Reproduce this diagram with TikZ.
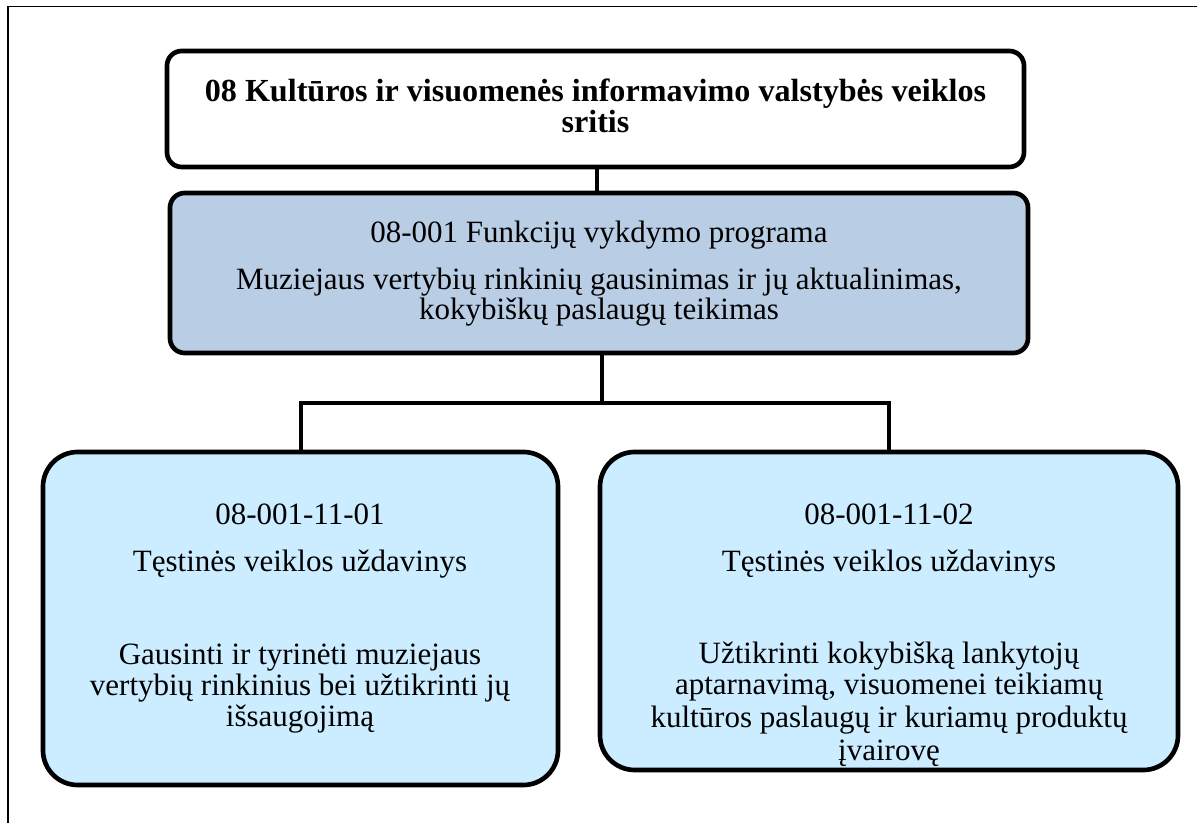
\documentclass[tikz,border=0pt]{standalone}
\usepackage{fontspec}
\setmainfont{Liberation Serif}
\definecolor{progblue}{HTML}{B9CDE5}
\definecolor{taskblue}{HTML}{CCECFF}
\begin{document}
\begin{tikzpicture}[x=0.75pt,y=-0.75pt,
  box/.style={draw=black, line width=3.5pt, inner sep=0pt},
  conn/.style={draw=black, line width=3pt},
  ln/.style={anchor=base, inner sep=0pt, font=\fontsize{23.25}{28}\selectfont},
  lnb/.style={ln, font=\fontsize{24.1}{28}\selectfont\bfseries}]
\useasboundingbox (0,0) rectangle (1197,823);
% frame
\draw[line width=1pt] (8,823) -- (8,6.5) -- (1197,6.5);
% boxes
\node[box, fill=white, rounded corners=11pt, minimum width=642.75pt, minimum height=87pt] (top) at (595.5,109) {};
\node[box, fill=progblue, rounded corners=11pt, minimum width=643.5pt, minimum height=120pt] (prog) at (599,273) {};
\node[box, fill=taskblue, rounded corners=26pt, minimum width=386.25pt, minimum height=249.75pt] (left) at (300.5,618.5) {};
\node[box, fill=taskblue, rounded corners=26pt, minimum width=433.5pt, minimum height=238.5pt] (right) at (889,611) {};
% connectors
\coordinate (j) at (602,403);
\coordinate (ta) at (597,167);
\draw[conn] (ta) -- (ta |- prog.north);
\draw[conn] (prog.south -| j) -- (j);
\draw[conn] (left.north) |- (j) -| (right.north);
% texts
\node[lnb] (t1) at (595.5,102) {08 Kultūros ir visuomenės informavimo valstybės veiklos};
\node[lnb] (t2) at (595.5,133) {sritis};
\node[ln] (p1) at (599,243) {08-001 Funkcijų vykdymo programa};
\node[ln] (p2) at (599,290) {Muziejaus vertybių rinkinių gausinimas ir jų aktualinimas,};
\node[ln] (p3) at (599,320) {kokybiškų paslaugų teikimas};
\node[ln] (a1) at (300,525) {08-001-11-01};
\node[ln] (a2) at (300,572) {Tęstinės veiklos uždavinys};
\node[ln] (a3) at (300,664) {Gausinti ir tyrinėti muziejaus};
\node[ln] (a4) at (300,695) {vertybių rinkinius bei užtikrinti jų};
\node[ln] (a5) at (300,726) {išsaugojimą};
\node[ln] (b1) at (889,525) {08-001-11-02};
\node[ln] (b2) at (889,572) {Tęstinės veiklos uždavinys};
\node[ln] (b3) at (889,663) {Užtikrinti kokybišką lankytojų};
\node[ln] (b4) at (889,694) {aptarnavimą, visuomenei teikiamų};
\node[ln] (b5) at (889,727) {kultūros paslaugų ir kuriamų produktų};
\node[ln] (b6) at (889,760) {įvairovę};
\end{tikzpicture}
\end{document}
